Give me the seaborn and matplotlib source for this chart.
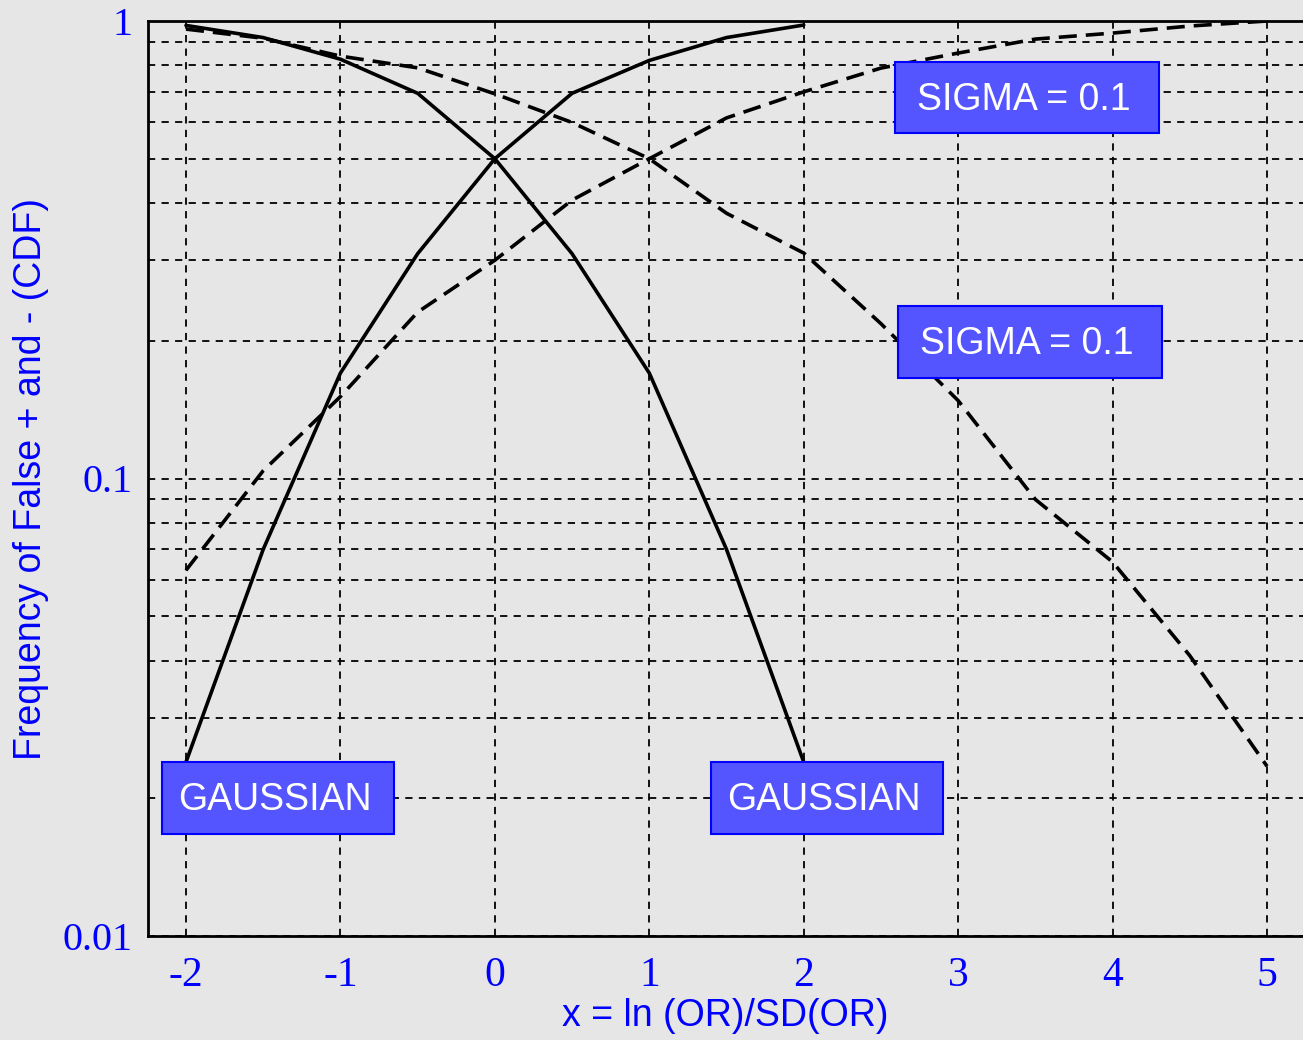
import matplotlib
matplotlib.use("Agg")
import matplotlib.pyplot as plt
from matplotlib.patches import Rectangle
from matplotlib.ticker import FixedLocator, LogLocator, NullFormatter, FixedFormatter
import numpy as np
import pandas as pd
import seaborn as sns

# ---- data ----
x_gauss = [-2, -1.5, -1, -0.5, 0, 0.5, 1, 1.5, 2]
gauss_down = [0.978, 0.92, 0.825, 0.695, 0.5, 0.31, 0.17, 0.07, 0.024]
gauss_up = [0.024, 0.07, 0.17, 0.31, 0.5, 0.695, 0.82, 0.92, 0.98]

x_sigma = [-2, -1.5, -1, -0.5, 0, 0.5, 1, 1.5, 2, 2.5, 3, 3.5, 4, 4.5, 5]
sigma_down = [0.96, 0.917, 0.838, 0.79, 0.693, 0.60, 0.5, 0.38, 0.311, 0.218,
              0.148, 0.09, 0.0657, 0.041, 0.0235]
sigma_up = [0.063, 0.104, 0.151, 0.231, 0.30, 0.406, 0.5, 0.614, 0.70, 0.789,
            0.851, 0.913, 0.941, 0.975, 1.0]

x_ticks = [-2, -1, 0, 1, 2, 3, 4, 5]
x_ticklabels = ["-2", "-1", "0", "1", "2", "3", "4", "5"]
y_ticks = [0.01, 0.1, 1]
y_ticklabels = ["0.01", "0.1", "1"]

labels = [
    ("SIGMA = 0.1", (0.6468, 0.8776, 0.2285, 0.0776)),
    ("SIGMA = 0.1", (0.6494, 0.6098, 0.2285, 0.0787)),
    ("GAUSSIAN", (0.0121, 0.1115, 0.2009, 0.0787)),
    ("GAUSSIAN", (0.4874, 0.1115, 0.2009, 0.0787)),
]

xlabel = "x = ln (OR)/SD(OR)"
ylabel = "Frequency of False + and - (CDF)"

# ---- style ----
bg = "#e6e6e6"
sns.set_style("white", rc={"axes.facecolor": bg, "figure.facecolor": bg})
plt.rcParams["font.family"] = ["Liberation Sans", "DejaVu Sans"]

fig = plt.figure(figsize=(13.03, 10.40), dpi=100)
ax = fig.add_axes([148 / 1303, 1 - 936 / 1040, 1 - 148 / 1303, (936 - 21) / 1040])
ax.set_facecolor(bg)

dash = (0, (5, 2.5))
for xs, ys, ls in [
    (x_gauss, gauss_down, "-"),
    (x_gauss, gauss_up, "-"),
    (x_sigma, sigma_down, dash),
    (x_sigma, sigma_up, dash),
]:
    df = pd.DataFrame({"x": xs, "y": ys})
    sns.lineplot(data=df, x="x", y="y", ax=ax, color="black", lw=2.6,
                 linestyle=ls, zorder=3)

ax.set_yscale("log")
ax.set_xlim(-2.246, 5.233)
ax.set_ylim(0.01, 1)

ax.xaxis.set_major_locator(FixedLocator(x_ticks))
ax.xaxis.set_major_formatter(FixedFormatter(x_ticklabels))
ax.xaxis.set_minor_locator(FixedLocator([-1.5, -0.5, 0.5, 1.5, 2.5, 3.5, 4.5]))
ax.yaxis.set_major_locator(FixedLocator(y_ticks))
ax.yaxis.set_major_formatter(FixedFormatter(y_ticklabels))
ax.yaxis.set_minor_locator(LogLocator(base=10, subs=np.arange(2, 10)))
ax.yaxis.set_minor_formatter(NullFormatter())

grid_kw = dict(color="black", lw=1.3, linestyle=(0, (4, 3.5)))
ax.grid(which="major", axis="both", **grid_kw)
ax.grid(which="minor", axis="y", **grid_kw)
ax.set_axisbelow(True)

ax.tick_params(which="major", axis="x", direction="out", length=12, width=2,
               color="black", pad=3, labelsize=30, labelcolor="#0000ff")
ax.tick_params(which="minor", axis="x", direction="out", length=10, width=2,
               color="black")
ax.tick_params(which="both", axis="y", direction="out", length=13, width=2,
               color="black", pad=-2, labelsize=29, labelcolor="#0000ff")
for lab in ax.get_xticklabels() + ax.get_yticklabels():
    lab.set_family(["Liberation Serif", "DejaVu Serif"])

for side in ["left", "bottom", "top"]:
    ax.spines[side].set_visible(True)
    ax.spines[side].set_color("black")
    ax.spines[side].set_linewidth(2)
ax.spines["right"].set_visible(False)

ax.set_xlabel(xlabel, fontsize=27, color="#0000ff", labelpad=2)
ax.set_ylabel(ylabel, fontsize=27, color="#0000ff", labelpad=10)

for text, (x0, y0, w, h) in labels:
    ax.add_patch(Rectangle((x0, y0), w, h, transform=ax.transAxes,
                           facecolor="#5555ff", edgecolor="#0000ff", lw=1.5,
                           zorder=5, clip_on=False))
    ax.text(x0 + w / 2 - 0.003, y0 + h / 2 + 0.002, text, transform=ax.transAxes,
            ha="center", va="center_baseline", color="white", fontsize=27,
            zorder=6)

fig.savefig("out.png", dpi=100, facecolor=bg)
